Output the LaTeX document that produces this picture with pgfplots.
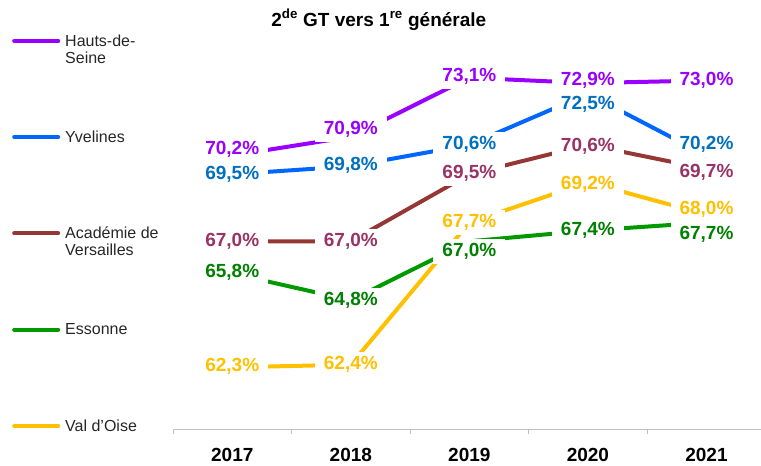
\documentclass[border=0pt]{standalone}
\usepackage{pgfplots}
\pgfplotsset{compat=1.18}
\usepackage{pgfplotstable}
\usepackage{fontspec}
\setmainfont{Liberation Sans}
\definecolor{cHS}{HTML}{9900FF}
\definecolor{cYVl}{HTML}{0066FF}
\definecolor{cYVt}{HTML}{0070C0}
\definecolor{cACl}{HTML}{953735}
\definecolor{cACt}{HTML}{993366}
\definecolor{cESl}{HTML}{009900}
\definecolor{cESt}{HTML}{008000}
\definecolor{cVO}{HTML}{FFC000}
\definecolor{legtxt}{HTML}{262626}

\pgfplotstableread{
x y dy
0 70.2 6.5
1 70.9 7
2 73.1 1
3 72.9 3
4 73.0 0
}\tHS
\pgfplotstableread{
x y dy
0 69.5 0
1 69.8 1
2 70.6 0
3 72.5 -10
4 70.2 11.5
}\tYV
\pgfplotstableread{
x y dy
0 67.0 0
1 67.0 0
2 69.5 1
3 70.6 -2
4 69.7 -3
}\tAC
\pgfplotstableread{
x y dy
0 65.8 1
1 64.8 0
2 67.0 -10
3 67.4 0
4 67.7 -12
}\tES
\pgfplotstableread{
x y dy
0 62.3 1
1 62.4 0
2 67.7 0
3 69.2 -2
4 68.0 5
}\tVO

\newcommand{\LE}[1]{\smash{\begin{tabular}[t]{@{}l@{}}#1\end{tabular}}}

\pgfplotsset{
  lab/.style={draw=none, mark=none, forget plot,
    point meta=y,
    visualization depends on={\thisrow{dy}\as\dy},
    nodes near coords={\pgfmathprintnumber[fixed,fixed zerofill,precision=1,use comma,assume math mode=true]{\pgfplotspointmeta}\%},
    every node near coord/.append style={anchor=center, fill=white, inner xsep=9bp, inner ysep=4.5bp,
      font=\fontsize{19bp}{21bp}\selectfont\bfseries, text=#1, yshift=\dy bp}},
}

\begin{document}
\begin{tikzpicture}
\path[use as bounding box] (0,0) rectangle (761bp,466bp);
\begin{axis}[
  at={(173bp,37bp)}, anchor=south west,
  scale only axis, width=588bp, height=429bp,
  xmin=-0.5, xmax=4.46, ymin=60, ymax=76,
  clip=false,
  axis x line*=bottom,
  hide y axis,
  x axis line style={draw=black!25, line width=1bp},
  xtick={0,1,2,3,4},
  xticklabels={2017,2018,2019,2020,2021},
  major tick length=0pt,
  extra x ticks={-0.5,0.5,1.5,2.5,3.5},
  extra x tick labels={},
  extra x tick style={tick align=outside, major tick length=5bp, tick style={draw=black!25, line width=1bp}},
  xticklabel style={font=\fontsize{19bp}{21bp}\selectfont\bfseries, inner sep=0pt, yshift=-19.5bp},
  title={2\textsuperscript{de} GT vers 1\textsuperscript{re} générale},
  title style={at={(axis description cs:0.35,1)}, anchor=base, inner sep=0pt, yshift=-32bp,
    font=\fontsize{19bp}{21bp}\selectfont\bfseries},
  legend style={at={(axis description cs:-0.2738,0.910)}, anchor=north west, draw=none, fill=none,
    font=\fontsize{16bp}{17bp}\selectfont, text=legtxt, inner sep=0pt, row sep=87.5bp, column sep=5bp,
    nodes={inner sep=0pt}},
  legend cell align=left,
  legend image code/.code={\draw[#1, line width=4bp, line cap=round] (2bp,6bp) -- (46bp,6bp);},
]
\addplot[cHS, line width=4bp, line join=round] table[x=x,y=y]{\tHS};
\addlegendentry{\LE{Hauts-de-\\Seine}}
\addplot[cYVl, line width=4bp, line join=round] table[x=x,y=y]{\tYV};
\addlegendentry{\LE{Yvelines}}
\addplot[cACl, line width=4bp, line join=round] table[x=x,y=y]{\tAC};
\addlegendentry{\LE{Académie de\\Versailles}}
\addplot[cESl, line width=4bp, line join=round] table[x=x,y=y]{\tES};
\addlegendentry{\LE{Essonne}}
\addplot[cVO, line width=4bp, line join=round] table[x=x,y=y]{\tVO};
\addlegendentry{\LE{Val d’Oise}}

\addplot[lab=cHS] table[x=x,y=y]{\tHS};
\addplot[lab=cYVt] table[x=x,y=y]{\tYV};
\addplot[lab=cACt] table[x=x,y=y]{\tAC};
\addplot[lab=cESt] table[x=x,y=y]{\tES};
\addplot[lab=cVO] table[x=x,y=y]{\tVO};
\end{axis}
\end{tikzpicture}
\end{document}
